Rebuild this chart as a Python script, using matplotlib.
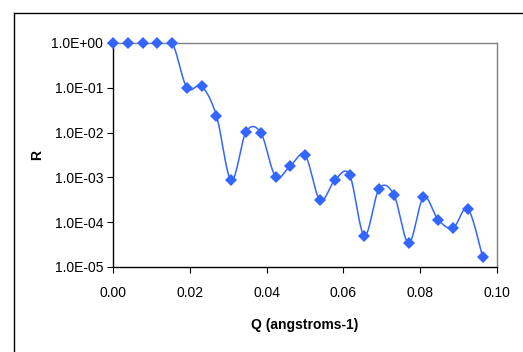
import matplotlib
matplotlib.use('Agg')
import matplotlib.pyplot as plt
import matplotlib.ticker as mticker
from matplotlib.lines import Line2D
import numpy as np

plt.rcParams['font.family'] = ['Liberation Sans', 'DejaVu Sans']

# Reflectivity data
q = np.arange(26) * 0.00385
R = np.array([1.0, 1.0, 1.0, 1.0, 1.0, 0.10, 0.108, 0.0237, 8.6e-4, 0.0104,
              0.0099, 1.04e-3, 1.83e-3, 3.1e-3, 3.1e-4, 8.6e-4, 1.15e-3, 5.0e-5,
              5.6e-4, 4.1e-4, 3.4e-5, 3.6e-4, 1.13e-4, 7.4e-5, 2.0e-4, 1.7e-5])

yticks = [1e0, 1e-1, 1e-2, 1e-3, 1e-4, 1e-5]
xticks = [0.00, 0.02, 0.04, 0.06, 0.08, 0.10]


def smooth(x, y, n=20):
    # Catmull-Rom curve through the points (spreadsheet-style smoothed line)
    px = np.concatenate([[x[0]], x, [x[-1]]])
    py = np.concatenate([[y[0]], y, [y[-1]]])
    t = np.linspace(0, 1, n, endpoint=False)
    xs, ys = [], []
    for i in range(1, len(px) - 2):
        for arr, out in ((px, xs), (py, ys)):
            p0, p1, p2, p3 = arr[i - 1], arr[i], arr[i + 1], arr[i + 2]
            out.extend(0.5 * ((2 * p1) + (-p0 + p2) * t
                              + (2 * p0 - 5 * p1 + 4 * p2 - p3) * t ** 2
                              + (-p0 + 3 * p1 - 3 * p2 + p3) * t ** 3))
    xs.append(x[-1])
    ys.append(y[-1])
    return np.array(xs), np.array(ys)


fig = plt.figure(figsize=(5.23, 3.52), dpi=100)
ax = fig.add_axes([113 / 523, 85 / 352, 384 / 523, 224 / 352])

blue = '#3366ff'
sx, sy = smooth(q, np.log10(R))
ax.plot(sx, 10 ** sy, '-', color=blue, linewidth=1.1, zorder=2)
ax.plot(q, R, 'D', color=blue, markersize=6.3, markeredgewidth=0, zorder=3, clip_on=False)

ax.set_yscale('log')
ax.set_xlim(0, 0.10)
ax.set_ylim(1e-5, 1e0)
ax.set_xticks(xticks)
ax.set_yticks(yticks)
ax.yaxis.set_minor_locator(mticker.NullLocator())
ax.xaxis.set_major_formatter(mticker.FuncFormatter(lambda v, p: '%.2f' % v))
ax.yaxis.set_major_formatter(mticker.FuncFormatter(lambda v, p: '%.1E' % v))
ax.tick_params(axis='both', direction='out', length=4, width=0.8, labelsize=10, color='black')
ax.tick_params(axis='x', pad=10)
ax.tick_params(axis='y', pad=3)

for s in ('top', 'right'):
    ax.spines[s].set_color('#808080')
    ax.spines[s].set_linewidth(1.0)
for s in ('left', 'bottom'):
    ax.spines[s].set_color('black')
    ax.spines[s].set_linewidth(1.0)

ax.set_xlabel('Q (angstroms-1)', fontsize=10, fontweight='bold', labelpad=13)
ax.set_ylabel('R', fontsize=10, fontweight='bold', labelpad=5)

# chart area border
fig.add_artist(Line2D([13.5 / 523, 13.5 / 523], [0, 1 - 12.5 / 352], color='black', linewidth=1.0))
fig.add_artist(Line2D([13.5 / 523, 1], [1 - 12.5 / 352, 1 - 12.5 / 352], color='black', linewidth=1.0))

plt.savefig('out.png', dpi=100)
